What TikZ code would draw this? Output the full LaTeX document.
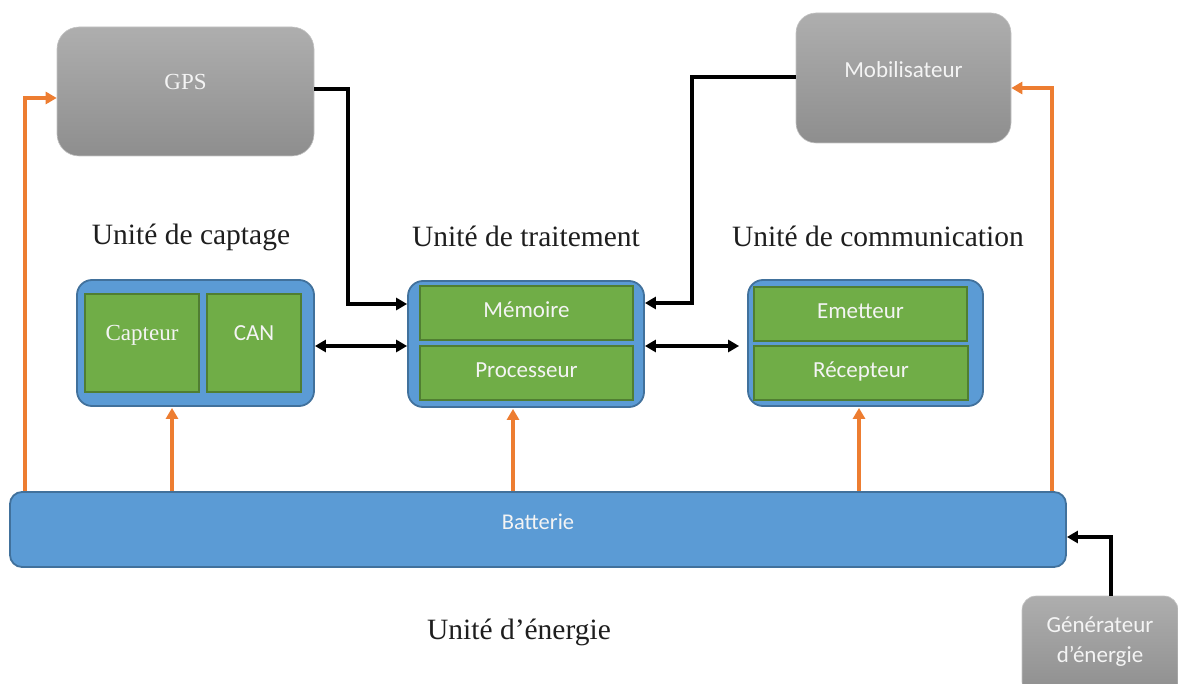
\documentclass[tikz,border=0pt]{standalone}
\usepackage{fontspec}
\setmainfont{Liberation Serif}
\newfontfamily\calib{Carlito}
\usetikzlibrary{arrows.meta,calc}
\definecolor{bfill}{HTML}{5B9BD5}
\definecolor{bedge}{HTML}{41719C}
\definecolor{gfill}{HTML}{70AD47}
\definecolor{gedge}{HTML}{507E32}
\definecolor{graytop}{HTML}{AEAEAE}
\definecolor{graybot}{HTML}{8E8E8E}
\definecolor{grayedge}{HTML}{C4C4C4}
\definecolor{orng}{HTML}{ED7D31}
\definecolor{headtxt}{HTML}{1E1E1E}
\definecolor{wtxt}{HTML}{F4F4F4}
\begin{document}
\begin{tikzpicture}[x=1pt,y=-1pt,
  graybox/.style={rounded corners=22pt, top color=graytop, bottom color=graybot, draw=grayedge, line width=0.6pt, inner sep=0pt},
  bluebox/.style={rounded corners=15pt, fill=bfill, draw=bedge, line width=1.8pt, inner sep=0pt},
  greenbox/.style={fill=gfill, draw=gedge, line width=1.8pt, inner sep=0pt, text=wtxt, text height=12pt, text depth=3pt, font=\calib\fontsize{23}{28}\selectfont},
  sanstxt/.style={text=wtxt, font=\calib\fontsize{23}{28}\selectfont, inner sep=0pt},
  seriftxt/.style={text=wtxt, font=\fontsize{23}{28}\selectfont, inner sep=0pt},
  heading/.style={text=headtxt, font=\fontsize{29.5}{34}\selectfont, inner sep=0pt},
  blk/.style={line width=3.8pt, draw=black, -{Triangle[length=11pt,width=12pt]}},
  blkboth/.style={line width=3.8pt, draw=black, {Triangle[length=11pt,width=12pt]}-{Triangle[length=11pt,width=12pt]}},
  org/.style={line width=3.4pt, draw=orng, -{Triangle[length=11pt,width=12pt]}}
]
\useasboundingbox (0,0) rectangle (1178,684);

% gray boxes
\node[graybox, minimum width=257pt, minimum height=129pt] (gps) at (185.5,91.5) {};
\node[seriftxt] (gpst) at ([yshift=9.5pt]gps.center) {GPS};
\node[graybox, rounded corners=20pt, minimum width=215pt, minimum height=130pt] (mob) at (903.5,78) {};
\node[sanstxt] (mobt) at ([yshift=8.5pt]mob.center) {Mobilisateur};
\node[graybox, rounded corners=14pt, minimum width=156pt, minimum height=100pt] (gen) at (1100,646) {};
\node[sanstxt, align=center, font=\calib\fontsize{23}{30.5}\selectfont] (gent) at (1100,641.5) {Générateur\\d’énergie};

% headings
\node[heading] (hcapt) at (191,237) {Unité de captage};
\node[heading] (htrait) at (526,236.5) {Unité de traitement};
\node[heading] (hcomm) at (878,236.5) {Unité de communication};
\node[heading] (hener) at (519,632) {Unité d’énergie};

% captage
\node[bluebox, minimum width=237pt, minimum height=126pt] (capt) at (195.5,343) {};
\node[greenbox, minimum width=114pt, minimum height=98pt] (capteur) at (142,343) {};
\node[greenbox, minimum width=94pt, minimum height=98pt] (can) at (254,343) {};
\node[seriftxt] (capteurt) at ([yshift=8pt]capteur.center) {Capteur};
\node[sanstxt] (cant) at ([yshift=10pt]can.center) {CAN};

% traitement
\node[bluebox, minimum width=236pt, minimum height=126pt] (trait) at (526,344) {};
\node[greenbox, minimum width=213pt, minimum height=54pt] (mem) at (526.5,313) {Mémoire};
\node[greenbox, minimum width=213pt, minimum height=54pt] (proc) at (526.5,373) {Processeur};

% communication
\node[bluebox, minimum width=235pt, minimum height=126pt] (comm) at (865.5,343) {};
\node[greenbox, minimum width=213pt, minimum height=54pt] (emet) at (860.5,314) {Emetteur};
\node[greenbox, minimum width=214pt, minimum height=54pt] (recep) at (861,373) {Récepteur};

% batterie
\node[bluebox, rounded corners=12pt, minimum width=1056pt, minimum height=75pt] (batt) at (538,529.5) {};
\node[sanstxt, font=\calib\fontsize{22.5}{26}\selectfont] (battt) at ([yshift=8pt]batt.center) {Batterie};

% black connectors
\draw[blk] ([yshift=2.5pt]gps.east) -- ++(34,0) |- ([yshift=40pt]trait.west);
\draw[blk] ([yshift=1pt]mob.west) -- ++(-104,0) |- ([yshift=41pt]trait.east);
\draw[blkboth] ([yshift=-3pt]capt.east) -- ([yshift=-2pt]trait.west);
\draw[blkboth] ([yshift=-2pt]trait.east) -- ([yshift=-3pt,xshift=-8pt]comm.west);
\draw[blk] ([xshift=11pt]gen.north) |- ([yshift=-7.5pt]batt.east);

% orange connectors
\draw[org] ([xshift=16pt]batt.north west) |- ([yshift=-6.5pt]gps.west);
\draw[org] ([xshift=-23.5pt]capt.south |- batt.north) -- ([xshift=-23.5pt,yshift=-1pt]capt.south);
\draw[org] ([xshift=-13pt]trait.south |- batt.north) -- ([xshift=-13pt,yshift=-1pt]trait.south);
\draw[org] ([xshift=-6.5pt]comm.south |- batt.north) -- ([xshift=-6.5pt,yshift=-1pt]comm.south);
\draw[org] ([xshift=-15pt]batt.north east) |- ([yshift=-10pt]mob.east);
\end{tikzpicture}
\end{document}
